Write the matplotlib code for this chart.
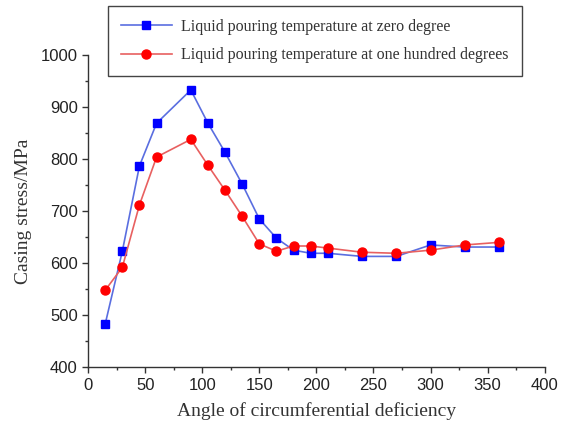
import matplotlib.pyplot as plt
from matplotlib.ticker import MultipleLocator

# Casing stress vs. angle of circumferential deficiency
angle = [15, 30, 45, 60, 90, 105, 120, 135, 150, 165, 180, 195, 210, 240, 270, 300, 330, 360]
stress_zero = [483, 623, 787, 869, 933, 869, 813, 752, 685, 648, 625, 619, 619, 613, 613, 635, 631, 631]
stress_hundred = [548, 592, 712, 804, 838, 788, 740, 690, 637, 623, 633, 633, 629, 621, 619, 625, 635, 640]

label_zero = "Liquid pouring temperature at zero degree"
label_hundred = "Liquid pouring temperature at one hundred degrees"

fig = plt.figure(figsize=(5.61, 4.24), dpi=100)
ax = fig.add_axes([0.157, 0.134, 0.814, 0.736])

ax.plot(angle, stress_zero, color="#5a6ee0", lw=1.2, marker="s", ms=6,
        mfc="#0000ff", mec="#0000ff", label=label_zero)
ax.plot(angle, stress_hundred, color="#e86060", lw=1.2, marker="o", ms=6.5,
        mfc="#ff0000", mec="#ff0000", label=label_hundred)

ax.set_xlim(0, 400)
ax.set_ylim(400, 1000)
ax.xaxis.set_major_locator(MultipleLocator(50))
ax.xaxis.set_minor_locator(MultipleLocator(25))
ax.yaxis.set_major_locator(MultipleLocator(100))
ax.yaxis.set_minor_locator(MultipleLocator(50))

for side in ("top", "right"):
    ax.spines[side].set_visible(False)
for side in ("left", "bottom"):
    ax.spines[side].set_color("#333333")
    ax.spines[side].set_linewidth(1.0)

ax.tick_params(which="major", direction="out", length=4, width=1, color="#333333",
               labelsize=12, labelcolor="#222222")
ax.tick_params(which="minor", direction="out", length=2.5, width=1, color="#333333")
for lab in ax.get_xticklabels() + ax.get_yticklabels():
    lab.set_family("Liberation Sans")

ax.set_xlabel("Angle of circumferential deficiency", family="Liberation Serif",
              fontsize=14, color="#333333", labelpad=7)
ax.set_ylabel("Casing stress/MPa", family="Liberation Serif",
              fontsize=14, color="#333333", labelpad=6)

leg = fig.legend(loc="upper left", bbox_to_anchor=(0.1925, 0.986), borderaxespad=0,
                 frameon=True, fancybox=False, edgecolor="#444444", framealpha=1,
                 prop={"family": "Liberation Serif", "size": 11.5},
                 handlelength=3.2, handletextpad=0.6, borderpad=0.8, labelspacing=0.8)
leg.get_frame().set_linewidth(1.0)
for t in leg.get_texts():
    t.set_color("#333333")

fig.savefig("out.png", dpi=100)
